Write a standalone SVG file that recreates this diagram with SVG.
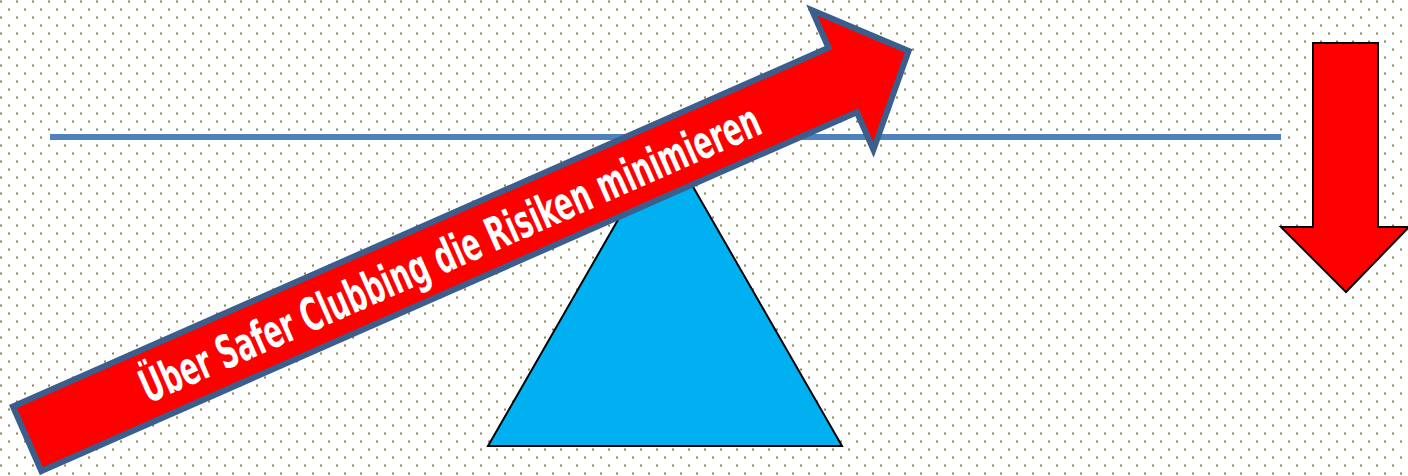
<svg xmlns="http://www.w3.org/2000/svg" width="1408" height="476" viewBox="0 0 1408 476">
  <defs>
    <pattern id="dots" x="0" y="0" width="16" height="16" patternUnits="userSpaceOnUse">
      <rect x="0" y="0.5" width="2" height="2" fill="#8E8250"/>
      <rect x="8" y="8.5" width="2" height="2" fill="#8E8250"/>
    </pattern>
  </defs>
  <style>
    .beam { stroke: #4F81BD; stroke-width: 6; fill: none; }
    .fulcrum { fill: #00B0F0; stroke: #000; stroke-width: 2; stroke-linejoin: miter; }
    .bigarrow { fill: #FF0000; stroke: #3B5E8C; stroke-width: 6; stroke-linejoin: miter; }
    .downarrow { fill: #FF0000; stroke: #000; stroke-width: 2; }
    .label { fill: #FFFFFF; font-family: "DejaVu Sans Condensed", "DejaVu Sans", sans-serif; font-stretch: condensed; font-weight: 600; font-size: 46px; }
  </style>
  <rect width="1408" height="476" fill="#FFFFFF"/>
  <rect width="1408" height="476" fill="url(#dots)"/>
  <g id="connectors">
    <line class="beam" x1="50" y1="137" x2="1281" y2="137"/>
  </g>
  <g id="fulcrum">
    <polygon class="fulcrum" points="665,138 842,446 488,446"/>
  </g>
  <g id="rise-arrow" transform="translate(9,405) rotate(-23.75)">
    <polygon class="bigarrow" points="3,3 894,3 894,-38 966,38.25 894,114.5 894,73.5 3,73.5"/>
    <text class="label" x="128" y="55" textLength="673" lengthAdjust="spacingAndGlyphs">Über Safer Clubbing die Risiken minimieren</text>
  </g>
  <g id="down-arrow">
    <polygon class="downarrow" points="1313,43 1378,43 1378,227 1409,227 1346,292 1281,227 1313,227"/>
  </g>
</svg>
